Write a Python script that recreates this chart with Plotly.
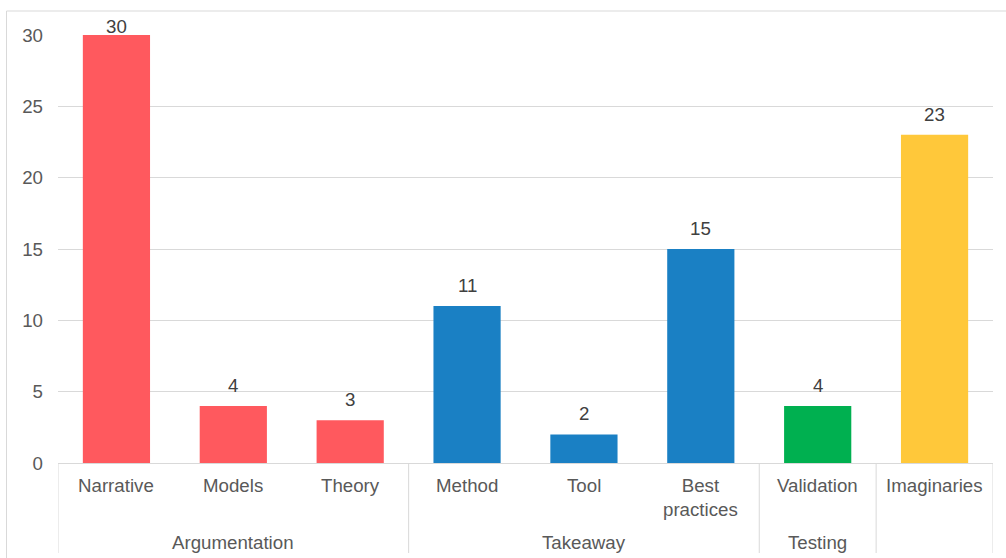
import plotly.graph_objects as go

# Data
categories = ["Narrative", "Models", "Theory", "Method", "Tool", "Best<br>practices", "Validation", "Imaginaries"]
groups = ["Argumentation", "Argumentation", "Argumentation", "Takeaway", "Takeaway", "Takeaway", "Testing", ""]
values = [30, 4, 3, 11, 2, 15, 4, 23]
group_colors = {"Argumentation": "#FF595E", "Takeaway": "#1A80C4", "Testing": "#00B050", "": "#FFC83A"}

y_max = 30
y_step = 5

FONT = "Liberation Sans, Arial, sans-serif"
FS = 18.7
GRID = "#D9D9D9"
TXT = "#595959"

x_idx = list(range(len(categories)))
colors = [group_colors[g] for g in groups]

fig = go.Figure()
fig.add_trace(go.Bar(
    x=x_idx, y=values, marker=dict(color=colors, line=dict(width=0)),
    width=0.575, showlegend=False, hoverinfo="skip",
))

annotations = []
# Value labels above bars (the tallest one is pulled down to stay in the chart area)
for i, v in enumerate(values):
    annotations.append(dict(
        x=i, y=v, xref="x", yref="y", text=str(v), showarrow=False,
        yanchor="bottom", yshift=(-4 if v >= y_max else 8),
        font=dict(family=FONT, size=FS, color="#404040"),
    ))

# Category labels
for i, c in enumerate(categories):
    annotations.append(dict(
        x=i, y=0, xref="x", yref="paper", text=c, showarrow=False,
        yanchor="top", yshift=-10,
        font=dict(family=FONT, size=FS, color=TXT),
    ))

# Group spans and labels
spans = []
start = 0
for i in range(1, len(groups) + 1):
    if i == len(groups) or groups[i] != groups[start]:
        spans.append((groups[start], start, i - 1))
        start = i

shapes = []
bottom = -90 / 428
for name, a, b in spans:
    if name:
        annotations.append(dict(
            x=(a + b) / 2, y=0, xref="x", yref="paper", text=name, showarrow=False,
            yanchor="top", yshift=-67,
            font=dict(family=FONT, size=FS, color=TXT),
        ))
boundaries = [-0.5] + [b + 0.5 for _, _, b in spans]
for xb in boundaries:
    shapes.append(dict(type="line", xref="x", yref="paper", x0=xb, x1=xb, y0=0, y1=bottom,
                       line=dict(color=GRID, width=1)))

# Chart-area border
shapes.append(dict(type="rect", xref="paper", yref="paper",
                   x0=(6.5 - 58) / 935, x1=(1012 - 58) / 935,
                   y0=(463 - 575) / 428, y1=(463 - 11) / 428,
                   line=dict(color=GRID, width=1), layer="below"))

fig.update_layout(
    width=1006, height=558,
    margin=dict(l=58, r=13, t=35, b=95),
    paper_bgcolor="white", plot_bgcolor="white",
    font=dict(family=FONT, size=FS, color=TXT),
    annotations=annotations, shapes=shapes,
    xaxis=dict(range=[-0.5, len(categories) - 0.5], showticklabels=False, showgrid=False,
               zeroline=False, showline=True, linecolor=GRID, linewidth=1, ticks=""),
    yaxis=dict(range=[0, y_max], dtick=y_step, showgrid=True, gridcolor=GRID, gridwidth=1,
               zeroline=False, showline=False, ticks="",
               tickfont=dict(family=FONT, size=FS, color=TXT), ticklabelstandoff=14),
)

fig.write_html("out.html")
